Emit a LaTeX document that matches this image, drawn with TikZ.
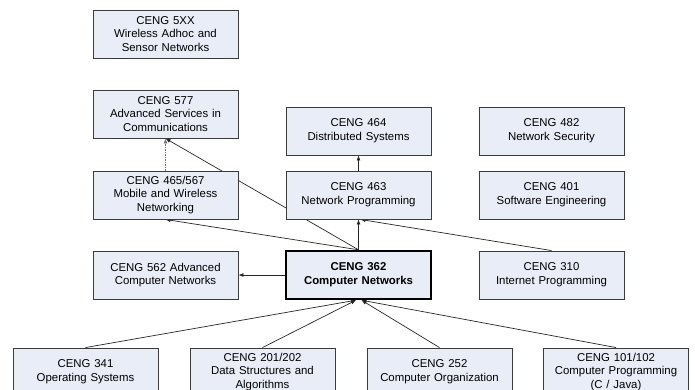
\documentclass[tikz,border=0pt]{standalone}
\usepackage{fontspec}
\setmainfont{Liberation Sans}
\usetikzlibrary{arrows.meta,backgrounds}

\definecolor{boxfill}{RGB}{232,237,247}
\definecolor{boxline}{RGB}{60,60,60}

\tikzset{
	course/.style={draw=boxline, fill=boxfill, line width=0.9pt, minimum width=145pt, minimum height=48pt, text width=140pt, align=center, inner sep=0pt, font=\fontsize{11.4}{13.7}\selectfont},
	core/.style={course, draw=black, line width=2.4pt, font=\fontsize{11.4}{13.7}\selectfont\bfseries},
	prereq/.style={-{Latex[length=5pt,width=4pt]}, line width=0.7pt, draw=black!85},
	optional/.style={prereq, draw=black!55, dash pattern=on 1.5pt off 1pt}
}

\begin{document}
\begin{tikzpicture}[x=1pt,y=-1pt]
\useasboundingbox (0,0) rectangle (695,389);

% left column
\node[course] (c5xx) at (165.5,34) {CENG 5XX\\Wireless Adhoc and\\Sensor Networks};
\node[course] (c577) at (165.5,114) {CENG 577\\Advanced Services in\\Communications};
\node[course] (c465) at (165.5,195) {CENG 465/567\\Mobile and Wireless\\Networking};
\node[course] (c562) at (165.5,275) {CENG 562 Advanced\\Computer Networks};

% middle column
\node[course] (c464) at (358.5,131) {CENG 464\\Distributed Systems};
\node[course] (c463) at (358.5,195) {CENG 463\\Network Programming};
\node[core] (c362) at (358.5,275) {CENG 362\\Computer Networks};

% right column
\node[course] (c482) at (551.5,131) {CENG 482\\Network Security};
\node[course] (c401) at (551.5,195) {CENG 401\\Software Engineering};
\node[course] (c310) at (551.5,275) {CENG 310\\Internet Programming};

% prerequisites
\node[course] (c341) at (85.5,372) {CENG 341\\Operating Systems};
\node[course] (c201) at (262.5,372) {CENG 201/202\\Data Structures and\\Algorithms};
\node[course] (c252) at (439.5,372) {CENG 252\\Computer Organization};
\node[course] (c101) at (616,372) {CENG 101/102\\Computer Programming\\(C / Java)};

\begin{scope}[on background layer]
	\draw[prereq] (c362.north) -- (c577.south);
	\draw[prereq] (c362.north) -- (c465.south);
	\draw[prereq] (c362.north) -- (c463.south);
	\draw[prereq] (c463.north) -- (c464.south);
	\draw[optional] (c465.north) -- (c577.south);
	\draw[prereq] (c362.west) -- (c562.east);
	\draw[prereq] (c310.north) -- ([xshift=2pt]c463.south);
	\foreach \src in {c341,c201}
	{
		\draw[prereq] (\src.north) -- ([xshift=-2.5pt]c362.south);
	}
	\foreach \src in {c252,c101}
	{
		\draw[prereq] (\src.north) -- ([xshift=3pt]c362.south);
	}
\end{scope}
\end{tikzpicture}
\end{document}
